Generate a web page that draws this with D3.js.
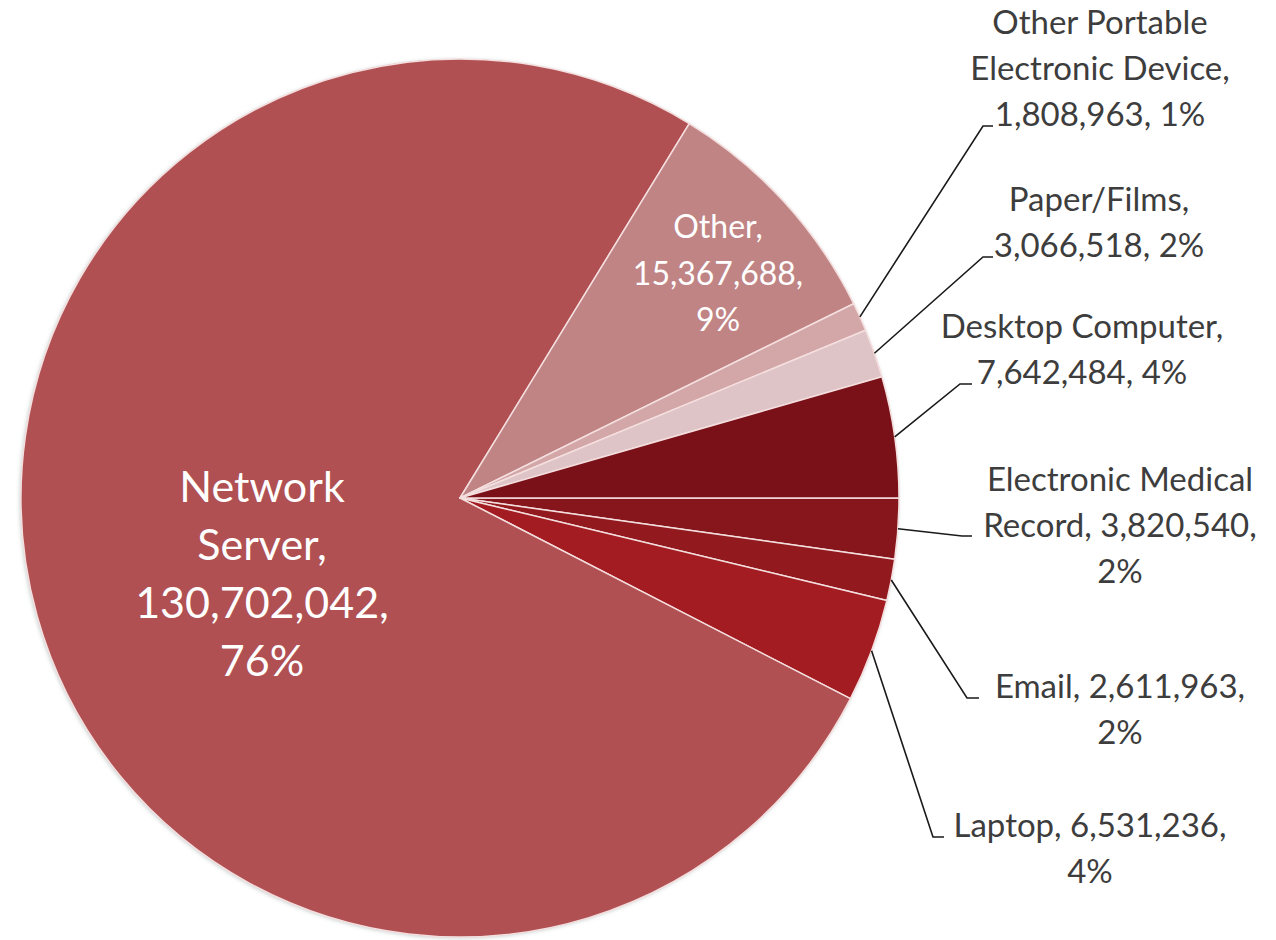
<!DOCTYPE html>
<html><head><meta charset="utf-8">
<script src="https://cdn.jsdelivr.net/npm/d3@7"></script>
<style>html,body{margin:0;padding:0;background:#fff;}svg{display:block;}</style>
</head><body>
<svg id="chart" width="1276" height="940"></svg>
<script>
// ---- data ----
const categories = ["Electronic Medical Record","Email","Laptop","Network Server","Other","Other Portable Electronic Device","Paper/Films","Desktop Computer"];
const values = [3820540, 2611963, 6531236, 130702042, 15367688, 1808963, 3066518, 7642484];
const colors = ["#86161b","#921a1f","#a31c22","#b05052","#c08485","#d3a6a8","#dec4c6","#7a1118"];

// ---- layout (positions/styles, not data) ----
const W = 1276, H = 940, cx = 460, cy = 498, R = 439;
const labelLayout = {
  "Electronic Medical Record": {lines:["Electronic Medical","Record, {v},","{p}"], x:1120, y:491, dy:46, fs:33, fill:"#3d3d3d", leader:[[962,536],[972,536]]},
  "Email": {lines:["Email, {v},","{p}"], x:1120, y:698, dy:46, fs:33, fill:"#3d3d3d", leader:[[967,698],[979,698]]},
  "Laptop": {lines:["Laptop, {v},","{p}"], x:1090, y:837, dy:46, fs:33, fill:"#3d3d3d", leader:[[933,837],[944,837]]},
  "Network Server": {lines:["Network","Server,","{v},","{p}"], x:262, y:502, dy:58, fs:43, fill:"#ffffff"},
  "Other": {lines:["Other,","{v},","{p}"], x:718, y:238, dy:46.5, fs:32, fill:"#ffffff"},
  "Other Portable Electronic Device": {lines:["Other Portable","Electronic Device,","{v}, {p}"], x:1100, y:34, dy:46, fs:33, fill:"#3d3d3d", leader:[[983,126],[993,126]]},
  "Paper/Films": {lines:["Paper/Films,","{v}, {p}"], x:1099, y:211, dy:46, fs:33, fill:"#3d3d3d", leader:[[983,257],[993,257]]},
  "Desktop Computer": {lines:["Desktop Computer,","{v}, {p}"], x:1082, y:338, dy:46, fs:33, fill:"#3d3d3d", leader:[[960,384],[972,384]]}
};

const data = categories.map((c,i)=>({name:c, value:values[i], color:colors[i]}));
const total = d3.sum(values);
const fmtV = d3.format(",");
const fmtP = v => Math.round(v/total*100) + "%";

const svg = d3.select("#chart");
const defs = svg.append("defs");
const f = defs.append("filter").attr("id","sh").attr("x","-10%").attr("y","-10%").attr("width","120%").attr("height","120%");
f.append("feDropShadow").attr("dx",-1).attr("dy",1).attr("stdDeviation",2).attr("flood-color","#7a8a8a").attr("flood-opacity",0.45);

const pie = d3.pie().sort(null).value(d=>d.value)
  .startAngle(Math.PI/2).endAngle(Math.PI/2 + 2*Math.PI);
const arcs = pie(data);
const arc = d3.arc().innerRadius(0).outerRadius(R);

const g = svg.append("g").attr("transform",`translate(${cx},${cy})`);
g.append("circle").attr("r",R).attr("fill","#b05052").attr("filter","url(#sh)");
g.selectAll("path.slice").data(arcs).join("path")
  .attr("class","slice")
  .attr("d",arc)
  .attr("fill",d=>d.data.color)
  .attr("stroke","#f4dede")
  .attr("stroke-width",1.5)
  .attr("stroke-linejoin","round");

// leader lines
arcs.forEach(a=>{
  const L = labelLayout[a.data.name];
  if(!L.leader) return;
  const mid = (a.startAngle+a.endAngle)/2;
  const p0 = [cx + Math.sin(mid)*R, cy - Math.cos(mid)*R];
  const pts = [p0, ...L.leader];
  svg.append("path").attr("d", d3.line()(pts))
    .attr("fill","none").attr("stroke","#1a1a1a").attr("stroke-width",1.6);
});

// labels
arcs.forEach(a=>{
  const L = labelLayout[a.data.name];
  const t = svg.append("text")
    .attr("text-anchor","middle")
    .attr("font-family","Lato, 'Open Sans', sans-serif")
    .attr("font-size",L.fs)
    .attr("fill",L.fill);
  L.lines.forEach((ln,i)=>{
    const s = ln.replace("{v}", fmtV(a.data.value)).replace("{p}", fmtP(a.data.value));
    t.append("tspan").attr("x",L.x).attr("y",L.y + i*L.dy).text(s);
  });
});
</script>
</body></html>
